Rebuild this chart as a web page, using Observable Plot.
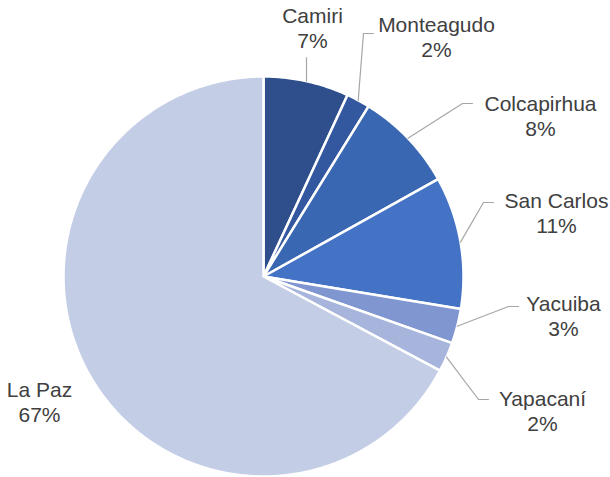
<!DOCTYPE html>
<html>
<head>
<meta charset="utf-8">
<script src="https://cdn.jsdelivr.net/npm/d3@7"></script>
<script src="https://cdn.jsdelivr.net/npm/@observablehq/plot@0.6"></script>
<style>
  html, body { margin: 0; padding: 0; background: #ffffff; }
  svg { display: block; }
</style>
</head>
<body>
<div id="chart"></div>
<script>
// ---- Data ----
const names = ["Camiri", "Monteagudo", "Colcapirhua", "San Carlos", "Yacuiba", "Yapacaní", "La Paz"];
const values = [6.9, 1.9, 8.1, 10.7, 2.8, 2.4, 67.2];
const pctLabels = ["7%", "2%", "8%", "11%", "3%", "2%", "67%"];
const colors = ["#2E4E8C", "#3358A0", "#3A67B2", "#4472C4", "#8096D0", "#A7B5DD", "#C3CDE6"];

// ---- Label layout (unit coordinates: pie radius = 1, y up) ----
// elbow of leader line, label text centre (first line baseline), horizontal tail?
const labelElbowX = [0.215, 0.5, 0.995, 1.1, 1.225, 1.075, null];
const labelElbowY = [1.095, 1.215, 0.865, 0.37, -0.15, -0.615, null];
const labelTail = [false, true, true, true, true, true, false];
const labelTextX = [0.245, 0.865, 1.385, 1.465, 1.5, 1.395, -1.12];
const labelTextY = [1.27, 1.225, 0.83, 0.345, -0.17, -0.645, -0.6];

// ---- Build geometry via d3.pie ----
const arcs = d3.pie().sort(null).value(d => d)(values);
const polys = [];
arcs.forEach((a, i) => {
  const n = Math.max(4, Math.ceil((a.endAngle - a.startAngle) / (Math.PI / 360)));
  polys.push({name: names[i], x: 0, y: 0});
  for (let k = 0; k <= n; k++) {
    const t = a.startAngle + (a.endAngle - a.startAngle) * k / n;
    polys.push({name: names[i], x: Math.sin(t), y: Math.cos(t)});
  }
  polys.push({name: names[i], x: 0, y: 0});
});

const leaders = [];
arcs.forEach((a, i) => {
  if (labelElbowX[i] == null) return;
  const m = (a.startAngle + a.endAngle) / 2;
  leaders.push({name: names[i], x: Math.sin(m), y: Math.cos(m)});
  leaders.push({name: names[i], x: labelElbowX[i], y: labelElbowY[i]});
  if (labelTail[i]) leaders.push({name: names[i], x: labelElbowX[i] + 0.05, y: labelElbowY[i]});
});

const labels = names.map((n, i) => ({name: n, pct: pctLabels[i], x: labelTextX[i], y: labelTextY[i]}));

const chart = Plot.plot({
  width: 610,
  height: 477,
  margin: 0,
  style: {fontFamily: "'Liberation Sans', Arial, sans-serif", background: "#ffffff"},
  x: {domain: [-263 / 200, 347 / 200], axis: null},
  y: {domain: [-201 / 200, 276 / 200], axis: null},
  color: {domain: names, range: colors},
  marks: [
    Plot.line(polys, {x: "x", y: "y", z: "name", fill: "name", stroke: "#ffffff", strokeWidth: 2.5, strokeLinejoin: "round", curve: "linear"}),
    Plot.line(leaders, {x: "x", y: "y", z: "name", stroke: "#A6A6A6", strokeWidth: 1.2, curve: "linear"}),
    Plot.text(labels, {x: "x", y: "y", text: "name", textAnchor: "middle", lineAnchor: "bottom", fill: "#404040", fontSize: 21}),
    Plot.text(labels, {x: "x", y: "y", text: "pct", textAnchor: "middle", lineAnchor: "bottom", dy: 25, fill: "#404040", fontSize: 21})
  ]
});
document.getElementById("chart").appendChild(chart);
</script>
</body>
</html>
